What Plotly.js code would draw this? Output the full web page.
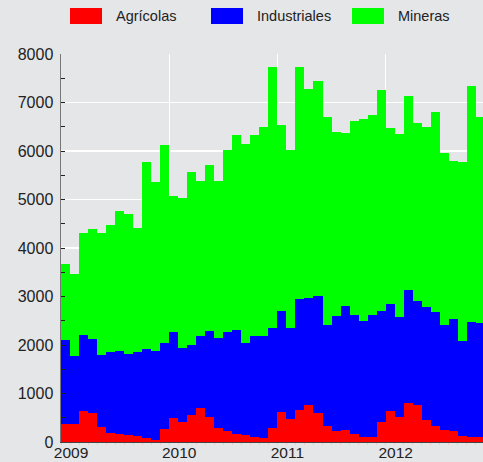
<!DOCTYPE html>
<html><head><meta charset="utf-8">
<script src="https://cdn.plot.ly/plotly-3.0.1.min.js"></script>
<style>html,body{margin:0;padding:0;background:#e5e6e8;}#chart{width:483px;height:462px;}</style>
</head><body><div id="chart"></div>
<script>
const months = ['2009-01','2009-02','2009-03','2009-04','2009-05','2009-06','2009-07','2009-08','2009-09','2009-10','2009-11','2009-12',
'2010-01','2010-02','2010-03','2010-04','2010-05','2010-06','2010-07','2010-08','2010-09','2010-10','2010-11','2010-12',
'2011-01','2011-02','2011-03','2011-04','2011-05','2011-06','2011-07','2011-08','2011-09','2011-10','2011-11','2011-12',
'2012-01','2012-02','2012-03','2012-04','2012-05','2012-06','2012-07','2012-08','2012-09','2012-10','2012-11'];

const agricolas = [371,371,640,591,309,193,172,138,124,83,48,261,
502,413,564,695,509,296,227,172,138,110,83,296,
619,465,667,757,591,323,227,241,172,103,103,406,
633,512,798,757,461,323,254,220,124,110,110];

const industriales = [1727,1410,1561,1534,1486,1664,1706,1678,1733,1836,1830,1789,
1773,1526,1437,1499,1774,1857,2049,2139,1905,2077,2111,2063,
2077,1885,2290,2207,2421,2091,2366,2558,2441,2394,2524,2304,
2207,2070,2331,2145,2331,2352,2160,2325,1960,2366,2345];

const mineras = [1568,1678,2111,2270,2510,2620,2895,2881,2565,3844,3473,4071,
2807,3095,3563,3191,3419,3232,3742,4016,4106,4134,4298,5365,
3831,3675,4780,4312,4422,4292,3803,3563,4010,4167,4106,4539,
3632,3773,4003,3666,3707,4127,3542,3246,3693,4862,4244];

const yearLabels = ['2009','2010','2011','2012'];
const yearStartMonths = ['2009-01','2010-01','2011-01','2012-01'];

const seriesNames = ['Agrícolas','Industriales','Mineras'];
const seriesColors = ['#ff0000','#0000ff','#00ff00'];
const seriesValues = [agricolas, industriales, mineras];

// month slot i occupies [i, i+1] on a linear axis
const xPos = months.map((m, i) => i + 0.5);
const yearTickVals = yearStartMonths.map(m => months.indexOf(m));

const traces = seriesValues.map((vals, k) => ({
  type: 'bar',
  x: xPos,
  y: vals,
  width: 1,
  name: seriesNames[k],
  marker: {color: seriesColors[k], line: {width: 0}},
  hoverinfo: 'skip'
}));

const W = 483, H = 462;
const M = {l: 61, r: 0, t: 54, b: 20};
const pw = W - M.l - M.r, ph = H - M.t - M.b;
const px2x = p => (p - M.l) / pw;
const px2y = p => (H - M.b - p) / ph;

// custom legend (swatch rectangles + text)
const legendSwatchLeft = [70, 211, 352];
const shapes = [];
const annotations = [];
seriesNames.forEach((name, k) => {
  const x0 = legendSwatchLeft[k];
  shapes.push({type: 'rect', xref: 'paper', yref: 'paper',
    x0: px2x(x0), x1: px2x(x0 + 32), y0: px2y(24), y1: px2y(8),
    fillcolor: seriesColors[k], line: {width: 0}});
  annotations.push({xref: 'paper', yref: 'paper', x: px2x(x0 + 44), y: px2y(16.5),
    xanchor: 'left', yanchor: 'middle', showarrow: false, text: name,
    font: {size: 14.5, color: '#222'}});
});

const layout = {
  width: W, height: H,
  margin: M,
  paper_bgcolor: '#e5e6e8',
  plot_bgcolor: '#e5e6e8',
  barmode: 'stack',
  bargap: 0,
  showlegend: false,
  font: {family: 'Liberation Sans, Arial, sans-serif', size: 16, color: '#222'},
  xaxis: {
    type: 'linear', range: [0, 46.8],
    tickmode: 'array', tickvals: yearTickVals, ticktext: yearLabels,
    ticks: '', showgrid: true, gridcolor: '#ffffff', gridwidth: 1.2,
    showline: true, linecolor: '#444', linewidth: 1,
    zeroline: false, ticklabelshift: 10, ticklabelstandoff: -4, automargin: false,
    tickfont: {size: 15.5},
    minor: {tickmode: 'linear', tick0: 0, dtick: 1, ticks: 'outside', ticklen: 2, tickcolor: '#f2c8c8', showgrid: false},
    fixedrange: true
  },
  yaxis: {
    range: [0, 8000], tickmode: 'linear', tick0: 0, dtick: 1000,
    ticks: 'inside', ticklen: 4, tickwidth: 1, tickcolor: '#222',
    showline: true, linecolor: '#777', linewidth: 1.5,
    showgrid: true, gridcolor: '#ffffff', gridwidth: 1.2,
    zeroline: false, automargin: false, ticklabelstandoff: 3,
    minor: {tickmode: 'linear', tick0: 0, dtick: 500, ticks: 'inside', ticklen: 4, tickcolor: '#222', showgrid: false},
    fixedrange: true
  },
  shapes: shapes,
  annotations: annotations
};

Plotly.newPlot('chart', traces, layout, {displayModeBar: false, staticPlot: true});
</script>
</body></html>
